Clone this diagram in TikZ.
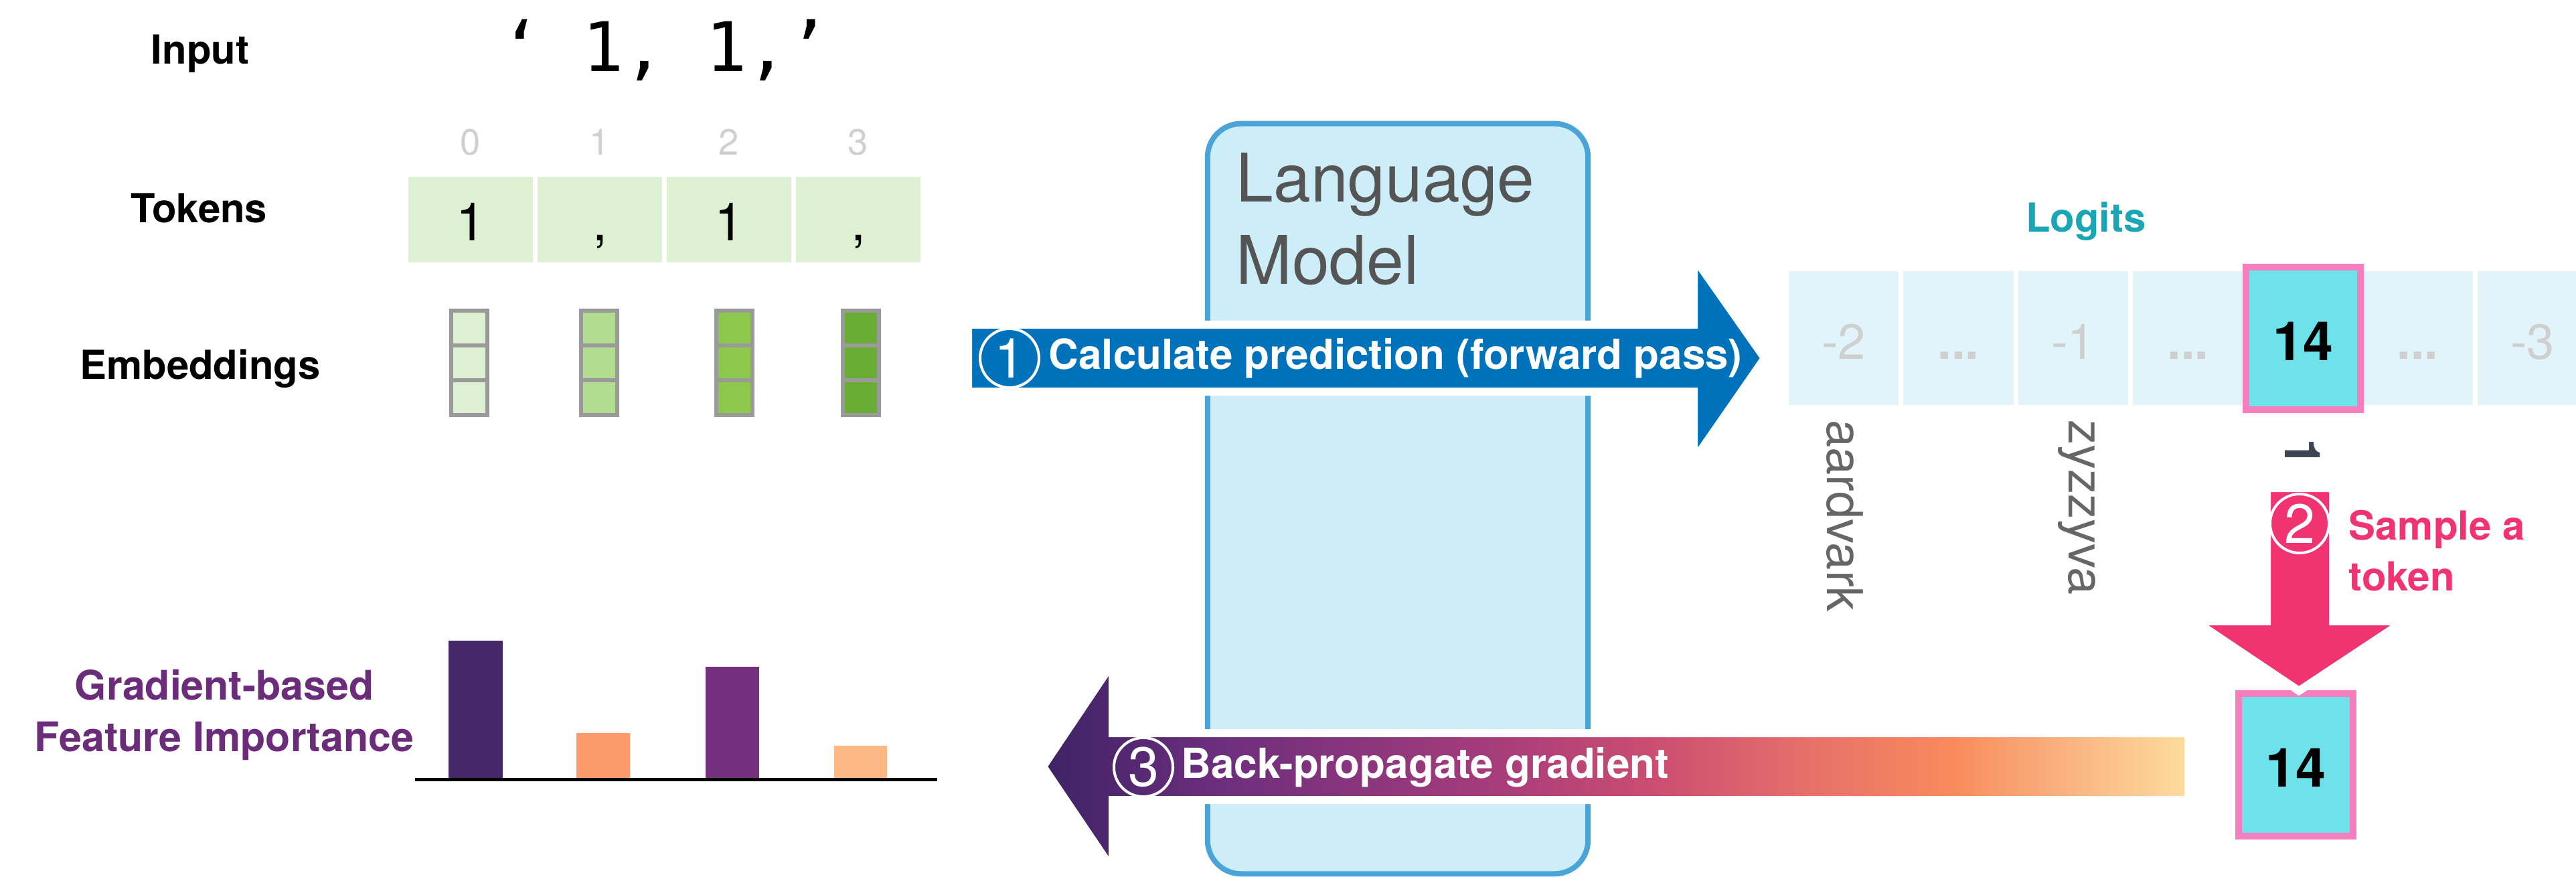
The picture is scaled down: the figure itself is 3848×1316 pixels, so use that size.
\documentclass[tikz,border=0pt]{standalone}
\usepackage{fontspec}
\setmainfont{TeX Gyre Heros}
\newfontfamily\codefont{DejaVu Sans Mono}
\usetikzlibrary{calc}

\definecolor{tokgreen}{HTML}{DDF0D1}
\definecolor{embA}{HTML}{DDF0D1}
\definecolor{embB}{HTML}{B2DC8F}
\definecolor{embC}{HTML}{8CC84B}
\definecolor{embD}{HTML}{6AAD35}
\definecolor{embgray}{HTML}{9A9A9A}
\definecolor{idxgray}{HTML}{D0D0D0}
\definecolor{lmfill}{HTML}{CDEEF9}
\definecolor{lmline}{HTML}{4AA3D9}
\definecolor{lmtext}{HTML}{555555}
\definecolor{fwdblue}{HTML}{0072BC}
\definecolor{logitbg}{HTML}{E1F4F9}
\definecolor{logitgray}{HTML}{CFCFCF}
\definecolor{pickcyan}{HTML}{6DE2EB}
\definecolor{pickpink}{HTML}{F67EBF}
\definecolor{samplepink}{HTML}{F13371}
\definecolor{logitteal}{HTML}{1BA6B5}
\definecolor{vocabgray}{HTML}{666666}
\definecolor{tokdark}{HTML}{3C4650}
\definecolor{fipurple}{HTML}{6B2C7A}
\definecolor{barA}{HTML}{45276A}
\definecolor{barB}{HTML}{FB9B69}
\definecolor{barC}{HTML}{742F7D}
\definecolor{barD}{HTML}{FDB885}
\definecolor{gA}{HTML}{3D2266}
\definecolor{gB}{HTML}{6B2E7D}
\definecolor{gC}{HTML}{A63C7B}
\definecolor{gD}{HTML}{CD4E70}
\definecolor{gE}{HTML}{E6706A}
\definecolor{gF}{HTML}{F88B5C}
\definecolor{gG}{HTML}{FAB07F}
\definecolor{gH}{HTML}{FCDD9E}

% colour ramp of the back-propagation arrow (left = dark purple, right = pale yellow)
\pgfdeclarehorizontalshading{backprop}{100bp}{%
  color(0bp)=(gA); color(25bp)=(gA); color(32.5bp)=(gB); color(44.6bp)=(gC);
  color(51.9bp)=(gD); color(58.4bp)=(gE); color(64.7bp)=(gF); color(69.4bp)=(gG);
  color(75bp)=(gH); color(100bp)=(gH)}

\newcommand\pxfont[1]{\fontsize{#1}{#1}\selectfont}

\begin{document}
\begin{tikzpicture}[x=0.01cm,y=-0.01cm,
  rowlabel/.style={font=\pxfont{17pt}\bfseries, anchor=base, inner sep=0pt},
  idx/.style={font=\pxfont{15.5pt}, text=idxgray, anchor=base, inner sep=0pt},
  tokcell/.style={fill=tokgreen, minimum width=1.86cm, minimum height=1.28cm,
    inner sep=0pt, text height=0.62cm, text depth=0pt, font=\pxfont{22.5pt}},
  embcell/.style={draw=embgray, line width=0.055cm},
  logcell/.style={fill=logitbg, minimum width=1.64cm, minimum height=2.0cm,
    inner sep=0pt, text height=0.62cm, text depth=0pt, font=\pxfont{21pt}, text=logitgray},
  pick/.style={fill=pickcyan, draw=pickpink, line width=0.1cm, minimum width=1.7cm,
    minimum height=2.12cm, inner sep=0pt, text height=0.65cm, text depth=0pt,
    font=\pxfont{23pt}\bfseries},
  vocab/.style={font=\pxfont{21pt}, text=vocabgray, rotate=-90, anchor=west, inner sep=0pt},
  stepnum/.style={circle, draw=white, line width=0.04cm, minimum size=0.88cm,
    inner sep=0pt, text=white, font=\pxfont{23.5pt}},
  arrowtext/.style={font=\pxfont{17.6pt}\bfseries, text=white, anchor=west, inner sep=0pt},
  outline/.style={draw=white, line width=0.12cm, line join=miter}]

\useasboundingbox (0,0) rectangle (3848,1316);

% ---------- input side ----------
\node[rowlabel] (inputlbl) at (299,96) {Input};
\node[rowlabel] (tokenslbl) at (297,333) {Tokens};
\node[rowlabel] (emblbl) at (299,567) {Embeddings};

\node[anchor=base, inner sep=0pt, font=\codefont\fontsize{29pt}{29pt}\selectfont] (inputtxt)
  at (993,107) {‘ 1, 1,’};

\foreach \i/\x/\t in {0/703/1, 1/896/{,}, 2/1089/1, 3/1282/{,}} {
  \node[idx] (idx\i) at (\x,232) {\i};
  \node[tokcell] (tok\i) at (\x,328) {\t};
}

% embedding vectors, three cells each, darker green further right
\foreach \i/\x/\c in {0/701/embA, 1/895/embB, 2/1097/embC, 3/1286/embD} {
  \foreach \k in {0,1,2} {
    \filldraw[embcell, fill=\c] (\x-27,464+52*\k) rectangle (\x+27,516+52*\k);
  }
}

% ---------- language model ----------
\node[draw=lmline, fill=lmfill, line width=0.08cm, rounded corners=0.5cm,
  minimum width=5.68cm, minimum height=11.2cm, inner sep=0pt] (lm) at (2088,745) {};
\node[anchor=base west, inner sep=0pt, text=lmtext, font=\pxfont{28.5pt}] (lmA) at (1846,302) {Language};
\node[anchor=base west, inner sep=0pt, text=lmtext, font=\pxfont{28.5pt}] (lmB) at (1846,425) {Model};

% forward pass arrow
\filldraw[outline, fill=fwdblue]
  (1446,485) -- (2530,485) -- (2530,384) -- (2636,535) -- (2530,688) -- (2530,585)
  -- (1446,585) -- cycle;
\node[stepnum] (step1) at (1508,535) {1};
\node[arrowtext] (fwdtxt) at (1566,535) {Calculate prediction (forward pass)};

% ---------- logits ----------
\node[font=\pxfont{17pt}\bfseries, text=logitteal, anchor=base, inner sep=0pt] (logitslbl)
  at (3116,347) {Logits};
\node[logcell] (lg0) at (2754,505) {-2};
\node[logcell] (lg1) at (2925.5,505) {\bfseries...};
\node[logcell] (lg2) at (3097,505) {-1};
\node[logcell] (lg3) at (3268.5,505) {\bfseries...};
\node[logcell] (lg5) at (3611.5,505) {\bfseries...};
\node[logcell] (lg6) at (3783,505) {-3};
\node[pick] (lg4) at (3440.5,505.5) {14};

\node[vocab] (wA) at (2756,627) {aardvark};
\node[vocab] (wB) at (3102,627) {zyzzyva};
\node[vocab, text=tokdark, font=\pxfont{21pt}\bfseries] (wC) at (3440,655) {1};

% sampled token
\node[pick] (chosen) at (3429.5,1142.5) {14};

% sampling arrow
\filldraw[outline, fill=samplepink]
  (3386,729) -- (3485,729) -- (3485,928) -- (3591,928) -- (3434,1032) -- (3279,928)
  -- (3386,928) -- cycle;
\node[stepnum] (step2) at (3435,782) {2};
\node[font=\pxfont{17pt}\bfseries, text=samplepink, anchor=base west, inner sep=0pt]
  (sampleA) at (3508,807) {Sample a};
\node[font=\pxfont{17pt}\bfseries, text=samplepink, anchor=base west, inner sep=0pt]
  (sampleB) at (3508,882) {token};

% back-propagation arrow
\shade[outline, shading=backprop]
  (3269,1095) -- (1662,1095) -- (1662,990) -- (1558,1145) -- (1662,1299) -- (1662,1195)
  -- (3269,1195) -- cycle;
\node[stepnum] (step3) at (1708,1146) {3};
\node[arrowtext] (bwdtxt) at (1764,1146) {Back-propagate gradient};

% ---------- feature importance ----------
\node[font=\pxfont{17.3pt}\bfseries, text=fipurple, anchor=base, inner sep=0pt] (fiA)
  at (335,1045) {Gradient-based};
\node[font=\pxfont{17.3pt}\bfseries, text=fipurple, anchor=base, inner sep=0pt] (fiB)
  at (335,1122) {Feature Importance};

\fill[barA] (670,957) rectangle (751,1162);
\fill[barB] (861,1095) rectangle (941,1162);
\fill[barC] (1054,996) rectangle (1134,1162);
\fill[barD] (1246,1114) rectangle (1325,1162);
\draw[line width=0.05cm, black] (620,1164) -- (1400,1164);

\end{tikzpicture}
\end{document}
